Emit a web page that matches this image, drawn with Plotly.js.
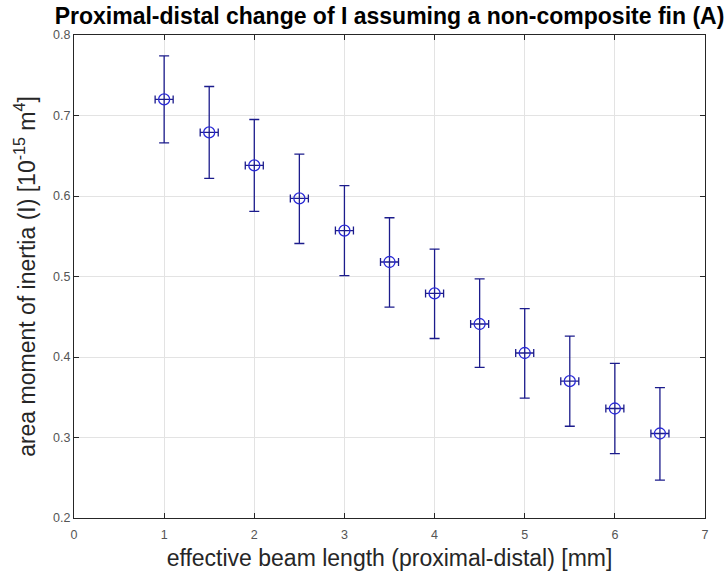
<!DOCTYPE html>
<html><head><meta charset="utf-8">
<script src="https://cdn.plot.ly/plotly-3.0.1.min.js"></script>
<style>html,body{margin:0;padding:0;background:#fff;}#chart{width:727px;height:581px;}</style>
</head><body><div id="chart"></div>
<script>
const beamLength = [1, 1.5, 2, 2.5, 3, 3.5, 4, 4.5, 5, 5.5, 6, 6.5];
const inertia = [0.720, 0.679, 0.638, 0.597, 0.557, 0.518, 0.479, 0.441, 0.405, 0.370, 0.336, 0.305];
const errPlus = [0.054, 0.057, 0.057, 0.055, 0.056, 0.055, 0.055, 0.056, 0.055, 0.056, 0.056, 0.057];
const errMinus = [0.054, 0.057, 0.057, 0.056, 0.056, 0.056, 0.056, 0.054, 0.056, 0.056, 0.056, 0.058];
const xErr = [0.1, 0.1, 0.1, 0.1, 0.1, 0.1, 0.1, 0.1, 0.1, 0.1, 0.1, 0.1];
const xTicks = [0, 1, 2, 3, 4, 5, 6, 7];
const yTicks = [0.2, 0.3, 0.4, 0.5, 0.6, 0.7, 0.8];

const barColor = '#1c1c8c';
const FONT = 'Liberation Sans, Arial, sans-serif';
const trace = {
  x: beamLength, y: inertia, type: 'scatter', mode: 'markers',
  marker: {symbol: 'circle-open', size: 11, color: '#2a2ad6', line: {width: 1.3, color: '#2a2ad6'}},
  error_y: {type: 'data', symmetric: false, array: errPlus, arrayminus: errMinus, color: barColor, thickness: 1.3, width: 5},
  error_x: {type: 'data', array: xErr, color: barColor, thickness: 1.3, width: 4},
  hoverinfo: 'skip'
};
const axisCommon = {
  showline: true, linecolor: '#262626', linewidth: 1, mirror: 'allticks',
  ticks: 'inside', ticklen: 5, tickcolor: '#262626', tickwidth: 1,
  showgrid: true, gridcolor: '#e3e3e3', gridwidth: 1, zeroline: false,
  tickfont: {family: FONT, size: 12.5, color: '#555555'}
};
const layout = {
  width: 727, height: 581,
  margin: {l: 74, r: 22, t: 35, b: 63},
  paper_bgcolor: '#ffffff', plot_bgcolor: '#ffffff',
  showlegend: false,
  title: {text: '<b>Proximal-distal change of I assuming a non-composite fin (A)</b>',
    font: {family: FONT, size: 23, color: '#000000'},
    x: 0.5, xref: 'paper', xanchor: 'center', y: 0.9725, yref: 'container', yanchor: 'middle'},
  xaxis: Object.assign({}, axisCommon, {
    range: [0, 7], tickvals: xTicks, ticktext: xTicks.map(String), ticklabelstandoff: 5,
    title: {text: 'effective beam length (proximal-distal) [mm]', standoff: 8,
      font: {family: FONT, size: 23, color: '#262626'}}
  }),
  yaxis: Object.assign({}, axisCommon, {
    range: [0.2, 0.8], tickvals: yTicks, ticktext: yTicks.map(v => v.toFixed(1)),
    title: {text: 'area moment of inertia (I) [10<sup>-15</sup> m<sup>4</sup>]', standoff: 11,
      font: {family: FONT, size: 23, color: '#262626'}}
  })
};
Plotly.newPlot('chart', [trace], layout, {displayModeBar: false, staticPlot: true});
</script></body></html>
